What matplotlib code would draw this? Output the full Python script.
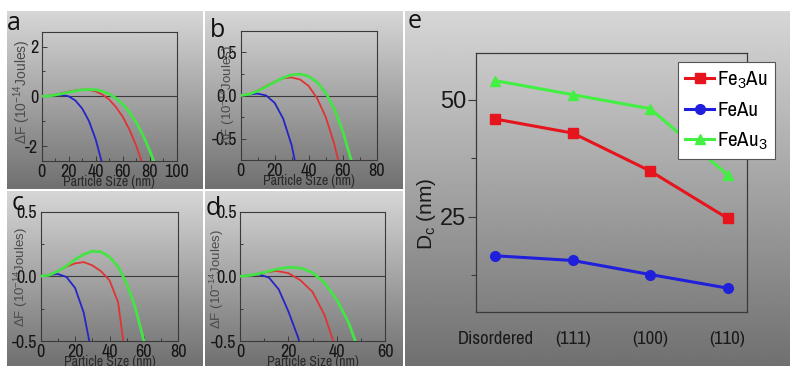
import numpy as np
import matplotlib
matplotlib.use('Agg')
import matplotlib.pyplot as plt
from matplotlib import font_manager
from matplotlib.ticker import MultipleLocator, FormatStrFormatter, FixedLocator
from matplotlib.transforms import ScaledTranslation

names = {f.name for f in font_manager.fontManager.ttflist}
NARROW = next((n for n in ['Liberation Sans Narrow', 'Arial Narrow', 'Archivo Narrow',
                           'Roboto Condensed', 'Liberation Sans'] if n in names), 'DejaVu Sans')
plt.rcParams['font.family'] = ['Liberation Sans', 'DejaVu Sans']
plt.rcParams['axes.unicode_minus'] = False
plt.rcParams['mathtext.fontset'] = 'custom'
plt.rcParams['mathtext.rm'] = 'Liberation Sans'
plt.rcParams['mathtext.it'] = 'Liberation Sans:italic'
plt.rcParams['mathtext.bf'] = 'Liberation Sans:bold'
plt.rcParams['mathtext.default'] = 'rm'

# ---------------- data: panels a-d (Delta F vs particle size) ----------------
a_x = [0, 5, 10, 15, 20, 25, 30, 35, 40, 45, 50, 55, 60, 65, 70, 75, 80, 85]
a_blue = [0, 0.02, 0.05, 0.06, 0.0, -0.17, -0.49, -0.99, -1.73, -2.74]
a_red = [0, 0.02, 0.065, 0.13, 0.19, 0.24, 0.27, 0.26, 0.20, 0.07, -0.13, -0.43,
         -0.82, -1.34, -1.98, -2.77]
a_green = [0, 0.015, 0.054, 0.108, 0.166, 0.22, 0.26, 0.277, 0.262, 0.204, 0.094,
           -0.076, -0.317, -0.638, -1.048, -1.557, -2.174, -2.909]

b_x = [0, 5, 10, 15, 20, 25, 30, 35, 40, 45, 50, 55, 60, 65, 70]
b_blue = [0, 0.011, 0.022, 0.0, -0.086, -0.27, -0.58, -1.06]
b_red = [0, 0.016, 0.057, 0.11, 0.16, 0.20, 0.21, 0.185, 0.11, -0.034, -0.25, -0.56, -0.97]
b_green = [0, 0.015, 0.052, 0.103, 0.157, 0.206, 0.24, 0.249, 0.223, 0.154, 0.032,
           -0.153, -0.41, -0.75, -1.18]

c_x = [0, 5, 10, 15, 20, 25, 30, 35, 40, 45, 50, 55, 60]
c_blue = [0, 0.012, 0.018, -0.005, -0.09, -0.28, -0.62]
c_red = [0, 0.01, 0.04, 0.075, 0.10, 0.11, 0.085, 0.04, -0.03, -0.20, -0.70]
c_green = [0, 0.01, 0.04, 0.08, 0.13, 0.17, 0.195, 0.19, 0.15, 0.075, -0.055, -0.24, -0.5]

d_x = [0, 5, 10, 15, 20, 25, 30, 35, 40, 45, 50]
d_blue_x = [0, 4, 8, 12, 16, 20, 24, 28]
d_blue = [0, 0.008, 0.015, -0.01, -0.10, -0.27, -0.47, -0.72]
d_red = [0, 0.01, 0.03, 0.042, 0.025, -0.03, -0.12, -0.30, -0.58]
d_green = [0, 0.01, 0.03, 0.055, 0.07, 0.065, 0.03, -0.05, -0.18, -0.36, -0.62]

# ---------------- data: panel e ----------------
categories = ['Disordered', '(111)', '(100)', '(110)']
fe3au = [45.9, 42.9, 34.8, 24.7]
feau = [16.7, 15.7, 12.7, 9.8]
feau3 = [54.1, 51.1, 48.1, 34.0]
series_labels = ['Fe$_3$Au', 'FeAu', 'FeAu$_3$']

W, H = 790, 366
fig = plt.figure(figsize=(W / 100, H / 100), dpi=100, facecolor='white')


def px_axes(l, t, r, b, **kw):
    return fig.add_axes([l / W, 1 - b / H, (r - l) / W, (b - t) / H], **kw)


# gradient tiles
tiles = [(7, 11, 203, 189), (205, 11, 402, 189), (7, 191, 203, 366),
         (205, 191, 402, 366), (405, 11, 790, 366)]
for (l, t, r, b) in tiles:
    tax = px_axes(l, t, r, b)
    g = np.linspace(0.84, 0.44, 256)[:, None]
    tax.imshow(g, cmap='gray', vmin=0, vmax=1, aspect='auto',
               extent=[0, 1, 0, 1], interpolation='bilinear')
    tax.set_axis_off()

BLUE, RED, GREEN = '#2424c8', '#e03434', '#44e444'
SP = '#3a3a3a'


def small_panel(box, x, blue_x, blue, red, green, xlim, xmaj, ylim, ymaj, fmt,
                ylab_c, ylab_fs):
    l, t, r, b = box
    ax = px_axes(l, t, r, b)
    ax.patch.set_alpha(0)
    ax.axhline(0, color=SP, lw=0.8, zorder=1)
    ax.plot(blue_x[:len(blue)], blue, color=BLUE, lw=1.3, zorder=3)
    ax.plot(x[:len(red)], red, color=RED, lw=1.3, zorder=3)
    ax.plot(x[:len(green)], green, color=GREEN, lw=2.0, zorder=4)
    ax.set_xlim(*xlim)
    ax.set_ylim(*ylim)
    ax.xaxis.set_major_locator(MultipleLocator(xmaj))
    ax.xaxis.set_minor_locator(MultipleLocator(xmaj / 2))
    ax.yaxis.set_major_locator(FixedLocator(ymaj))
    ax.yaxis.set_minor_locator(MultipleLocator((ymaj[1] - ymaj[0]) / 2))
    ax.yaxis.set_major_formatter(FormatStrFormatter(fmt))
    for s in ax.spines.values():
        s.set_color(SP)
        s.set_linewidth(0.8)
    ax.tick_params(which='both', direction='in', color=SP, width=0.7,
                   labelcolor='#151515', labelsize=13, pad=2.5)
    ax.tick_params(which='major', length=3.5)
    ax.tick_params(which='minor', length=2)
    for lab in ax.get_xticklabels() + ax.get_yticklabels():
        lab.set_family(NARROW)
    ax.set_xlabel('Particle Size (nm)', fontsize=10, family=NARROW,
                  color='#2a2a2a', va='center')
    ax.xaxis.set_label_coords(0.5, -0.165)
    ax.set_ylabel('ΔF (10$^{-14}$Joules)', fontsize=ylab_fs, color='#4a4a4a',
                  va='center')
    w = r - l
    hh = b - t
    ax.yaxis.set_label_coords((ylab_c[0] - l) / w, 1 - (ylab_c[1] - t) / hh)
    return ax


small_panel((41.7, 31.7, 176.7, 161), a_x, a_x, a_blue, a_red, a_green,
            (0, 100), 20, (-2.6, 2.6), [-2, 0, 2], '%d', (22, 92), 10)
small_panel((240.7, 31, 376.7, 160), b_x, b_x, b_blue, b_red, b_green,
            (0, 80), 20, (-0.75, 0.75), [-0.5, 0.0, 0.5], '%.1f', (228, 95), 9.5)
small_panel((40.7, 211.7, 178.3, 341), c_x, c_x, c_blue, c_red, c_green,
            (0, 80), 20, (-0.5, 0.5), [-0.5, 0.0, 0.5], '%.1f', (21, 277), 9.5)
small_panel((240, 211.7, 385, 341), d_x, d_blue_x, d_blue, d_red, d_green,
            (0, 60), 20, (-0.5, 0.5), [-0.5, 0.0, 0.5], '%.1f', (217, 279), 9.5)

# ---------------- panel e ----------------
l, t, r, b = 476, 53, 747, 312
ax = px_axes(l, t, r, b)
ax.patch.set_alpha(0)
xpos = np.arange(len(categories))
ax.plot(xpos, fe3au, color='#e6141c', lw=2.2, marker='s', ms=6.5, label=series_labels[0])
ax.plot(xpos, feau, color='#2020dc', lw=2.2, marker='o', ms=7, label=series_labels[1])
ax.plot(xpos, feau3, color='#42f042', lw=2.2, marker='^', ms=7.5, label=series_labels[2])
ax.set_xlim(-0.25, 3.25)
ax.set_ylim(4.7, 60)
ax.set_xticks(xpos)
ax.set_xticklabels(categories, family=NARROW)
label_shift_px = [11, 6, 2, -4]
for lab, dx in zip(ax.get_xticklabels(), label_shift_px):
    lab.set_transform(lab.get_transform() + ScaledTranslation(dx / 100, 0, fig.dpi_scale_trans))
ax.yaxis.set_major_locator(FixedLocator([25, 50]))
ax.yaxis.set_minor_locator(FixedLocator([12.5, 37.5]))
for s in ax.spines.values():
    s.set_color(SP)
    s.set_linewidth(0.9)
ax.tick_params(axis='x', length=0, pad=14, labelsize=13.5, labelcolor='#1a1a1a')
ax.tick_params(axis='y', which='major', direction='out', length=6, width=0.8,
               color=SP, labelsize=17, labelcolor='#1a1a1a', pad=1)
ax.tick_params(axis='y', which='minor', direction='out', length=3.5, width=0.8, color=SP)
ax.set_ylabel('D$_c$ (nm)', fontsize=15, color='#1a1a1a', va='center')
ax.yaxis.set_label_coords((427 - l) / (r - l), 1 - (214 - t) / (b - t))
leg = ax.legend(loc='upper right', bbox_to_anchor=((775 - l) / (r - l), 1 - (62 - t) / (b - t)),
                prop={'family': NARROW, 'size': 15}, frameon=True, fancybox=False,
                framealpha=1, edgecolor='#555555', handlelength=1.4, handletextpad=0.15,
                borderpad=0.35, labelspacing=0.5, borderaxespad=0)
leg.get_frame().set_linewidth(0.8)

# panel letters
for txt, x, yb in [('a', 7, 30), ('b', 210, 37), ('c', 12, 210), ('d', 206, 215), ('e', 408, 28)]:
    fig.text(x / W, 1 - yb / H, txt, fontsize=18, family=['Open Sans', 'DejaVu Sans'],
             va='baseline', ha='left', color='#101010')

fig.savefig('out.png', dpi=100, facecolor=fig.get_facecolor())
